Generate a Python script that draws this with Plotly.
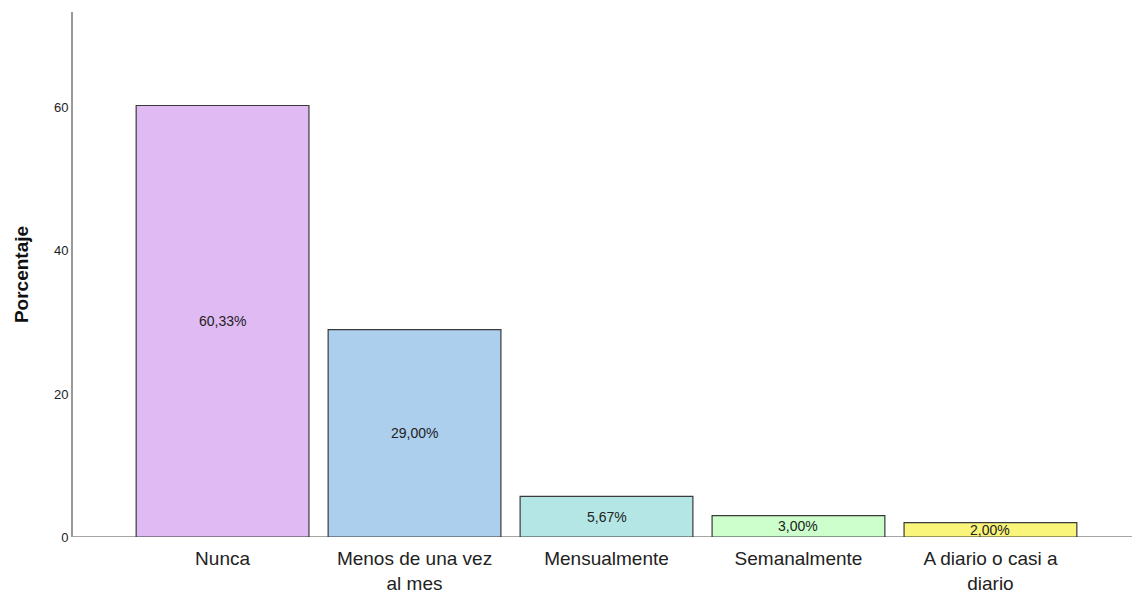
import plotly.graph_objects as go

categories = ["Nunca", "Menos de una vez<br>al mes", "Mensualmente", "Semanalmente", "A diario o casi a<br>diario"]
values = [60.33, 29.00, 5.67, 3.00, 2.00]
labels = ["60,33%", "29,00%", "5,67%", "3,00%", "2,00%"]
colors = ["#E0BAF3", "#ACCFEE", "#B4E6E6", "#CCFFCC", "#F9F47A"]
y_ticks = [0, 20, 40, 60]

idx = list(range(len(categories)))

fig = go.Figure()
fig.add_trace(go.Bar(
    x=idx, y=values, width=0.9,
    marker=dict(color=colors, line=dict(color="#3a3a3a", width=1.2)),
    textposition="none", hoverinfo="skip",
))
for i, v, t in zip(idx, values, labels):
    fig.add_annotation(x=i, y=v / 2, text=t, showarrow=False,
                       font=dict(family="Arial, Liberation Sans", size=14, color="#222"),
                       xref="x", yref="y")

fig.update_layout(
    width=1140, height=594,
    margin=dict(l=65, r=8, t=4, b=65),
    paper_bgcolor="white", plot_bgcolor="white",
    showlegend=False,
    font=dict(family="Arial, Liberation Sans", color="#222"),
)
fig.update_xaxes(
    range=[-0.779, 4.779], tickvals=idx, ticktext=categories,
    showgrid=False, zeroline=False, showline=False, ticks="",
    tickfont=dict(size=19, color="#222"), ticklabelstandoff=8,
)
fig.update_yaxes(
    range=[0, 73.4], tickvals=y_ticks, showgrid=False, zeroline=False,
    showline=True, linecolor="#999", linewidth=2, ticks="",
    tickfont=dict(size=13, color="#222"),
    title=dict(text="<b>Porcentaje</b>", font=dict(size=19, color="#111"), standoff=20),
)
fig.add_shape(type="line", xref="paper", yref="y", x0=0, x1=1, y0=0, y1=0,
              line=dict(color="#888", width=1.5), layer="below")
fig.write_html("out.html")
